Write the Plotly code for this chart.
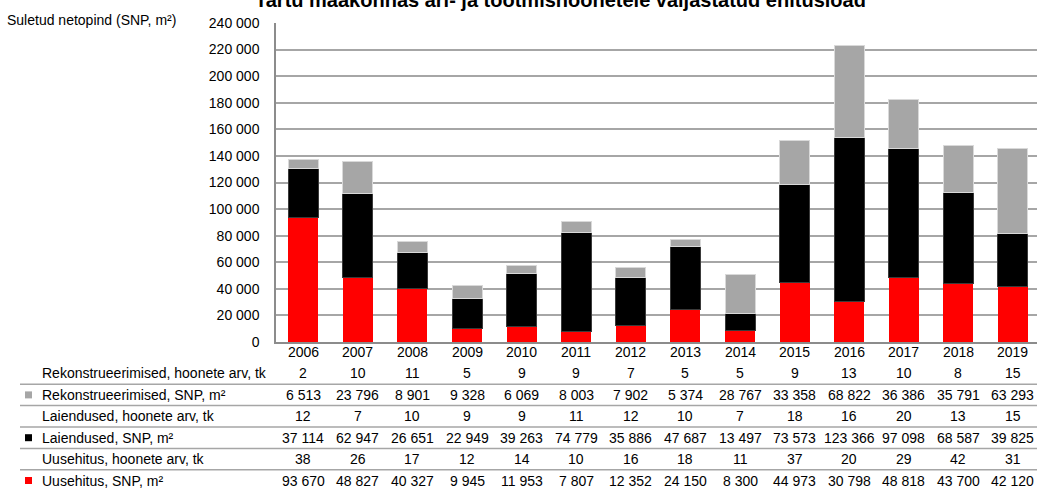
import plotly.graph_objects as go

# Building permits data by year
years = [2006, 2007, 2008, 2009, 2010, 2011, 2012, 2013, 2014, 2015, 2016, 2017, 2018, 2019]

rekon_arv = [2, 10, 11, 5, 9, 9, 7, 5, 5, 9, 13, 10, 8, 15]
rekon_snp = [6513, 23796, 8901, 9328, 6069, 8003, 7902, 5374, 28767, 33358, 68822, 36386, 35791, 63293]
laiend_arv = [12, 7, 10, 9, 9, 11, 12, 10, 7, 18, 16, 20, 13, 15]
laiend_snp = [37114, 62947, 26651, 22949, 39263, 74779, 35886, 47687, 13497, 73573, 123366, 97098, 68587, 39825]
uus_arv = [38, 26, 17, 12, 14, 10, 16, 18, 11, 37, 20, 29, 42, 31]
uus_snp = [93670, 48827, 40327, 9945, 11953, 7807, 12352, 24150, 8300, 44973, 30798, 48818, 43700, 42120]

y_ticks = list(range(0, 240001, 20000))

title_text = "Tartu maakonnas äri- ja tootmishoonetele väljastatud ehitusload"
y_title = "Suletud netopind (SNP, m²)"

RED = "#ff0000"
BLACK = "#000000"
GRAY = "#a6a6a6"
FONT = "Liberation Sans, Arial, sans-serif"

W, H = 1037, 489
PL, PR, PT, PB = 276, 1037, 23, 342


def px_x(p):
    return (p - PL) / (PR - PL)


def px_y(p):
    return (PB - p) / (PB - PT)


def fmt(v):
    return f"{v:,}".replace(",", " ")


fig = go.Figure()
fig.add_trace(go.Bar(x=years, y=uus_snp, name="Uusehitus, SNP, m²", width=0.55,
                     marker=dict(color=RED, line=dict(width=0))))
fig.add_trace(go.Bar(x=years, y=laiend_snp, name="Laiendused, SNP, m²", width=0.55,
                     marker=dict(color=BLACK, line=dict(color="#3a3a3a", width=1))))
fig.add_trace(go.Bar(x=years, y=rekon_snp, name="Rekonstrueerimised, SNP, m²", width=0.55,
                     marker=dict(color=GRAY, line=dict(color="#d9d9d9", width=1))))

annotations = []
shapes = []

# title at the very top of the page
annotations.append(dict(text="<b>" + title_text + "</b>", xref="paper", yref="paper",
                        x=px_x(560), y=px_y(0.5), xanchor="center", yanchor="middle",
                        showarrow=False, font=dict(size=20, family=FONT, color="#000")))
# y-axis caption
annotations.append(dict(text=y_title, xref="paper", yref="paper",
                        x=px_x(5), y=px_y(19.5), xanchor="left", yanchor="middle",
                        showarrow=False, font=dict(size=14, family=FONT, color="#000")))

# year labels under the bars
for yr in years:
    annotations.append(dict(text=str(yr), xref="x", yref="paper",
                            x=yr, y=px_y(352), xanchor="center", yanchor="middle",
                            showarrow=False, font=dict(size=14, family=FONT, color="#000")))

# data table under the chart
rows = [
    ("Rekonstrueerimised, hoonete arv, tk", rekon_arv, None),
    ("Rekonstrueerimised, SNP, m²", rekon_snp, GRAY),
    ("Laiendused, hoonete arv, tk", laiend_arv, None),
    ("Laiendused, SNP, m²", laiend_snp, BLACK),
    ("Uusehitus, hoonete arv, tk", uus_arv, None),
    ("Uusehitus, SNP, m²", uus_snp, RED),
]
row_y0 = 373.5
row_step = 21.4
for i, (label, vals, color) in enumerate(rows):
    cy = row_y0 + i * row_step
    annotations.append(dict(text=label, xref="paper", yref="paper",
                            x=px_x(40), y=px_y(cy), xanchor="left", yanchor="middle",
                            showarrow=False, font=dict(size=14, family=FONT, color="#000")))
    for yr, v in zip(years, vals):
        annotations.append(dict(text=fmt(v), xref="x", yref="paper",
                                x=yr, y=px_y(cy), xanchor="center", yanchor="middle",
                                showarrow=False, font=dict(size=14, family=FONT, color="#000")))
    if color is not None:
        shapes.append(dict(type="rect", xref="paper", yref="paper",
                           x0=px_x(25), x1=px_x(32), y0=px_y(cy - 3.5), y1=px_y(cy + 3.5),
                           fillcolor=color, line=dict(width=0)))
    if i < len(rows) - 1:
        ly = cy + row_step / 2
        shapes.append(dict(type="line", xref="paper", yref="paper",
                           x0=px_x(20), x1=px_x(1037), y0=px_y(ly), y1=px_y(ly),
                           line=dict(color="#a6a6a6", width=1.5)))

fig.update_layout(
    width=W, height=H,
    margin=dict(l=PL, r=W - PR, t=PT, b=H - PB, pad=0),
    barmode="stack",
    showlegend=False,
    plot_bgcolor="#ffffff",
    paper_bgcolor="#ffffff",
    font=dict(family=FONT, size=14, color="#000"),
    annotations=annotations,
    shapes=shapes,
    xaxis=dict(
        range=[2005.5, 2019.44],
        tickvals=years,
        showticklabels=False,
        showgrid=False,
        showline=True, linecolor="#8c8c8c", linewidth=1.5,
        ticks="", zeroline=False,
    ),
    yaxis=dict(
        range=[0, 240000],
        tickvals=y_ticks,
        ticktext=[fmt(v) for v in y_ticks],
        showgrid=True, gridcolor="#a6a6a6", gridwidth=1.5,
        showline=True, linecolor="#8c8c8c", linewidth=1.5,
        ticks="", zeroline=False,
        ticklabelstandoff=12,
        tickfont=dict(size=14, family=FONT, color="#000"),
    ),
)

fig.write_html("out.html")
